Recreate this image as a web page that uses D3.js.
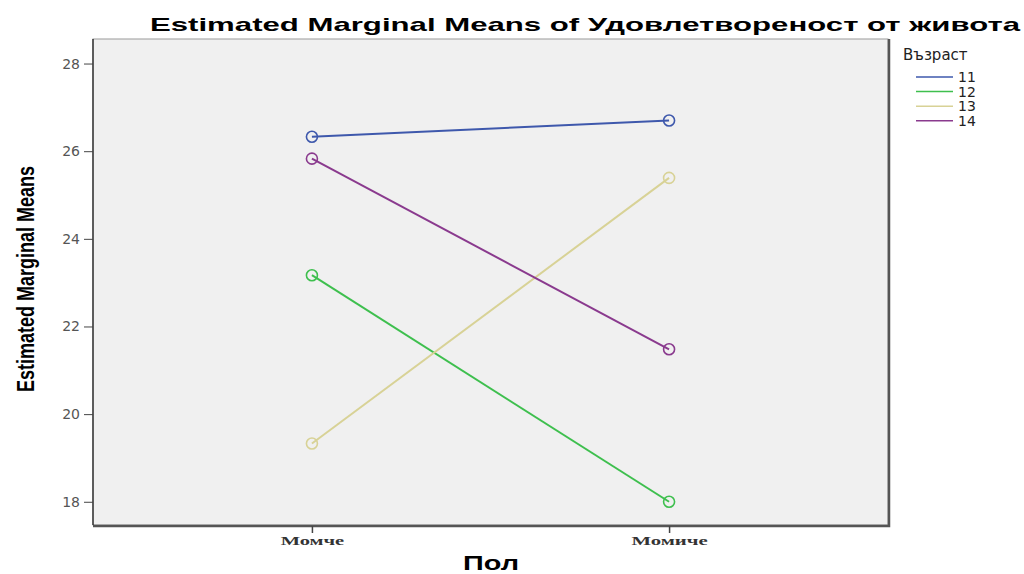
<!DOCTYPE html>
<html>
<head>
<meta charset="utf-8">
<script src="https://cdn.jsdelivr.net/npm/d3@7"></script>
<style>
  body { margin: 0; background: #fff; }
  svg { display: block; }
</style>
</head>
<body>
<svg width="1024" height="574"></svg>
<script>
// data
var groups = ['Момче', 'Момиче'];
var ages = ['11', '12', '13', '14'];
var means11 = [26.33, 26.70];
var means12 = [23.17, 18.00];
var means13 = [19.33, 25.39];
var means14 = [25.83, 21.48];
var yTicks = [18, 20, 22, 24, 26, 28];

var colors = ['#3e58ac', '#3ebf4e', '#d8d296', '#8a3a8e'];
var series = [means11, means12, means13, means14];

var svg = d3.select('svg');
var pLeft = 93, pRight = 888, pTop = 39, pBottom = 525;

var x = d3.scalePoint().domain(groups).range([pLeft, pRight]).padding(0.613);
var y = d3.scaleLinear().domain([17.47, 28.56]).range([pBottom, pTop]);

// plot frame
svg.append('rect')
  .attr('x', pLeft).attr('y', pTop)
  .attr('width', pRight - pLeft).attr('height', pBottom - pTop)
  .attr('fill', '#f0f0f0')
  .attr('stroke', '#9a9a9a')
  .attr('stroke-width', 1);
// darker right / bottom edge
svg.append('path')
  .attr('d', 'M' + (pRight + 1) + ',' + pTop + 'V' + (pBottom + 1) + 'H' + pLeft)
  .attr('fill', 'none').attr('stroke', '#555').attr('stroke-width', 2.5);
svg.append('line')
  .attr('x1', pLeft).attr('x2', pLeft).attr('y1', pTop).attr('y2', pBottom)
  .attr('stroke', '#222').attr('stroke-width', 1.3);

// y axis
var yAxis = d3.axisLeft(y).tickValues(yTicks).tickSize(9).tickPadding(4);
var gy = svg.append('g').attr('transform', 'translate(' + pLeft + ',0)').call(yAxis);
gy.select('.domain').remove();
gy.selectAll('line').attr('stroke', '#444');
gy.selectAll('text')
  .attr('font-family', 'DejaVu Sans, Verdana, sans-serif')
  .attr('font-size', 14).attr('fill', '#555');

// x axis
var xAxis = d3.axisBottom(x).tickSize(7).tickPadding(3);
var gx = svg.append('g').attr('transform', 'translate(0,' + (pBottom + 1) + ')').call(xAxis);
gx.select('.domain').remove();
gx.selectAll('line').attr('stroke', '#444').attr('stroke-width', 1.5);
gx.selectAll('text')
  .attr('font-family', 'Liberation Serif, DejaVu Serif, serif')
  .attr('font-size', 13).attr('font-weight', 'bold').attr('fill', '#333')
  .attr('textLength', function(d) { return d.length * 12.7; })
  .attr('lengthAdjust', 'spacingAndGlyphs');

// lines and markers
var line = d3.line()
  .x(function(d, i) { return x(groups[i]); })
  .y(function(d) { return y(d); });

series.forEach(function(vals, k) {
  svg.append('path')
    .datum(vals)
    .attr('d', line)
    .attr('fill', 'none')
    .attr('stroke', colors[k])
    .attr('stroke-width', 2);
  svg.selectAll('.m' + k)
    .data(vals)
    .enter().append('circle')
    .attr('class', 'm' + k)
    .attr('cx', function(d, i) { return x(groups[i]); })
    .attr('cy', function(d) { return y(d); })
    .attr('r', 5.5)
    .attr('fill', 'none')
    .attr('stroke', colors[k])
    .attr('stroke-width', 1.6);
});

// titles
svg.append('text')
  .attr('x', 150).attr('y', 31)
  .attr('font-family', 'Liberation Sans, Arial, sans-serif')
  .attr('font-size', 19).attr('font-weight', 'bold')
  .attr('textLength', 870).attr('lengthAdjust', 'spacingAndGlyphs')
  .text('Estimated Marginal Means of Удовлетвореност от живота');

svg.append('text')
  .attr('transform', 'translate(34,279) rotate(-90)')
  .attr('text-anchor', 'middle')
  .attr('font-family', 'Liberation Sans Narrow, Liberation Sans, Arial, sans-serif')
  .attr('font-size', 23).attr('font-weight', 'bold')
  .attr('textLength', 226).attr('lengthAdjust', 'spacingAndGlyphs')
  .text('Estimated Marginal Means');

svg.append('text')
  .attr('x', 491).attr('y', 570)
  .attr('text-anchor', 'middle')
  .attr('font-family', 'Liberation Sans, Arial, sans-serif')
  .attr('font-size', 20).attr('font-weight', 'bold')
  .attr('textLength', 56).attr('lengthAdjust', 'spacingAndGlyphs')
  .text('Пол');

// legend
var lg = svg.append('g');
lg.append('text')
  .attr('x', 903).attr('y', 60)
  .attr('font-family', 'DejaVu Sans, Verdana, sans-serif')
  .attr('font-size', 15).attr('fill', '#222')
  .text('Възраст');
ages.forEach(function(a, k) {
  var yy = 77 + k * 14.6;
  lg.append('line')
    .attr('x1', 916).attr('x2', 953).attr('y1', yy).attr('y2', yy)
    .attr('stroke', colors[k]).attr('stroke-width', 1.5);
  lg.append('text')
    .attr('x', 958).attr('y', yy + 5)
    .attr('font-family', 'DejaVu Sans, Verdana, sans-serif')
    .attr('font-size', 14).attr('fill', '#222')
    .text(a);
});
</script>
</body>
</html>
